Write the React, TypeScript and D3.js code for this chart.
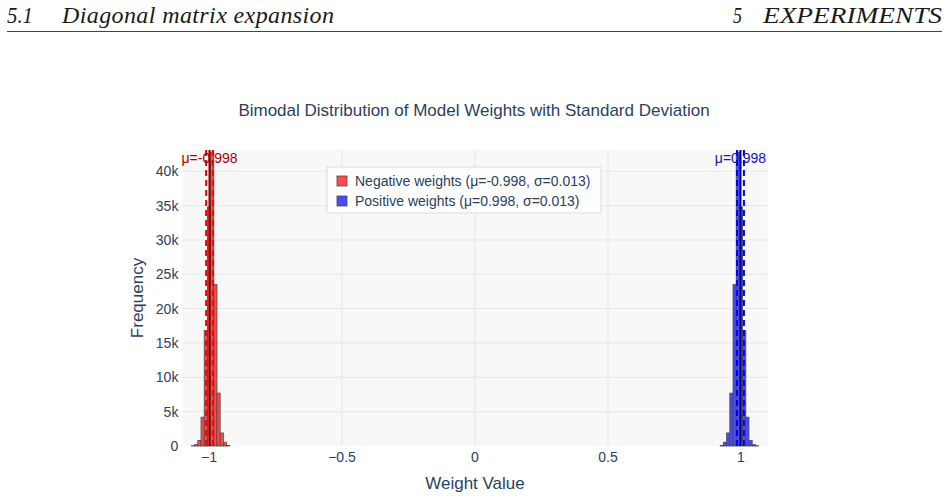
import React, { useEffect, useRef } from "react";
import * as d3 from "d3";

// histogram bins (left edge) and counts for each sign of the weights
const binWidth = 0.012;
const negativeBinStarts = [-1.066, -1.054, -1.042, -1.03, -1.018, -1.006, -0.994, -0.982, -0.97, -0.958, -0.946, -0.934];
const negativeCounts = [50, 200, 800, 4200, 16800, 34800, 42800, 23500, 7700, 1900, 550, 60];
const positiveBinStarts = [0.922, 0.934, 0.946, 0.958, 0.97, 0.982, 0.994, 1.006, 1.018, 1.03, 1.042, 1.054];
const positiveCounts = [60, 550, 1900, 7700, 23500, 42800, 34800, 16800, 4200, 800, 200, 50];

const seriesNames = ["Negative weights", "Positive weights"];
const means = [-0.998, 0.998];
const stdDevs = [0.013, 0.013];

const xTicks = [-1, -0.5, 0, 0.5, 1];
const yTicks = [0, 5000, 10000, 15000, 20000, 25000, 30000, 35000, 40000];

const W = 949;
const H = 499;
const font = "'Liberation Sans', Arial, sans-serif";
const ink = "#2a3f5f";

function App() {
  const ref = useRef<SVGSVGElement>(null);

  useEffect(() => {
    drawChart();
  });

  function drawChart() {
    const svg = d3.select(ref.current);
    svg.selectAll("*").remove();

    const plot = { left: 182.4, right: 767.6, top: 150, bottom: 446 };
    const x = d3.scaleLinear().domain([-1.1, 1.1]).range([plot.left, plot.right]);
    const y = d3.scaleLinear().domain([0, 43100]).range([plot.bottom, plot.top]);

    // page header
    const header = svg.append("g").style("font-family", "'Liberation Serif', 'DejaVu Serif', serif").style("font-style", "italic").style("font-size", "24px").attr("fill", "#1a1a1a");
    header.append("text").attr("x", 7).attr("y", 23).attr("textLength", 26).attr("lengthAdjust", "spacingAndGlyphs").text("5.1");
    header.append("text").attr("x", 62).attr("y", 23).attr("textLength", 272).attr("lengthAdjust", "spacing").text("Diagonal matrix expansion");
    header.append("text").attr("x", 733).attr("y", 23).attr("textLength", 9).attr("lengthAdjust", "spacingAndGlyphs").text("5");
    header.append("text").attr("x", 763).attr("y", 23).attr("textLength", 179).attr("lengthAdjust", "spacingAndGlyphs").text("EXPERIMENTS");
    svg.append("line").attr("x1", 7).attr("x2", 942).attr("y1", 31.5).attr("y2", 31.5).attr("stroke", "#444").attr("stroke-width", 1.2);

    // plot background and grid
    svg.append("rect")
      .attr("x", plot.left).attr("y", plot.top)
      .attr("width", plot.right - plot.left).attr("height", plot.bottom - plot.top)
      .attr("fill", "#f8f8f8");

    svg.append("g").selectAll("line").data(yTicks.filter((d) => d > 0)).enter().append("line")
      .attr("x1", plot.left).attr("x2", plot.right)
      .attr("y1", (d) => y(d)).attr("y2", (d) => y(d))
      .attr("stroke", "#e6e6e6").attr("stroke-width", 1);
    svg.append("g").selectAll("line").data(xTicks).enter().append("line")
      .attr("x1", (d) => x(d)).attr("x2", (d) => x(d))
      .attr("y1", plot.top).attr("y2", plot.bottom)
      .attr("stroke", "#e6e6e6").attr("stroke-width", 1);

    // histograms
    const series = [
      { starts: negativeBinStarts, counts: negativeCounts, fill: "rgb(255,0,0)" },
      { starts: positiveBinStarts, counts: positiveCounts, fill: "rgb(0,0,255)" },
    ];
    series.forEach((s) => {
      svg.append("g").attr("opacity", 0.7).selectAll("rect")
        .data(s.starts.map((start, i) => ({ start, count: s.counts[i] })))
        .enter().append("rect")
        .attr("x", (d) => x(d.start))
        .attr("width", (d) => x(d.start + binWidth) - x(d.start))
        .attr("y", (d) => y(d.count))
        .attr("height", (d) => y(0) - y(d.count))
        .attr("fill", s.fill)
        .attr("stroke", "#000")
        .attr("stroke-width", 0.8);
    });

    // mean and +/- one standard deviation markers
    const lineColors = [
      { solid: "darkred", dashed: "red", text: "#a80000" },
      { solid: "darkblue", dashed: "blue", text: "#1515b5" },
    ];
    means.forEach((m, i) => {
      const g = svg.append("g");
      [m - stdDevs[i], m + stdDevs[i]].forEach((v) => {
        g.append("line")
          .attr("x1", x(v)).attr("x2", x(v))
          .attr("y1", plot.top).attr("y2", plot.bottom)
          .attr("stroke", lineColors[i].dashed).attr("stroke-width", 2)
          .attr("stroke-dasharray", "6,4");
      });
      g.append("line")
        .attr("x1", x(m)).attr("x2", x(m))
        .attr("y1", plot.top).attr("y2", plot.bottom)
        .attr("stroke", lineColors[i].solid).attr("stroke-width", 2);
      g.append("text")
        .attr("x", x(m)).attr("y", 163)
        .attr("text-anchor", "middle")
        .style("font-family", font).style("font-size", "14px")
        .attr("fill", lineColors[i].text)
        .text(`μ=${m.toFixed(3)}`);
    });

    // axes
    const tickFormatY = d3.format("~s");
    svg.append("g").selectAll("text").data(yTicks).enter().append("text")
      .attr("x", plot.left - 4).attr("y", (d) => y(d) + 5)
      .attr("text-anchor", "end")
      .style("font-family", font).style("font-size", "14px").attr("fill", ink)
      .text((d) => tickFormatY(d));
    const tickFormatX = d3.format("");
    svg.append("g").selectAll("text").data(xTicks).enter().append("text")
      .attr("x", (d) => x(d)).attr("y", 462)
      .attr("text-anchor", "middle")
      .style("font-family", font).style("font-size", "14px").attr("fill", ink)
      .text((d) => tickFormatX(d));

    svg.append("text")
      .attr("x", x(0)).attr("y", 489).attr("text-anchor", "middle")
      .style("font-family", font).style("font-size", "17px").attr("fill", ink)
      .text("Weight Value");
    svg.append("text")
      .attr("transform", `translate(143, ${(plot.top + plot.bottom) / 2}) rotate(-90)`)
      .attr("text-anchor", "middle")
      .style("font-family", font).style("font-size", "17px").attr("fill", ink)
      .text("Frequency");

    svg.append("text")
      .attr("x", 474).attr("y", 116).attr("text-anchor", "middle")
      .style("font-family", font).style("font-size", "17px").attr("fill", ink)
      .text("Bimodal Distribution of Model Weights with Standard Deviation");

    // legend
    const legend = svg.append("g").attr("transform", "translate(327, 167)");
    legend.append("rect")
      .attr("width", 274).attr("height", 46)
      .attr("fill", "rgba(255,255,255,0.85)")
      .attr("stroke", "#dcdcdc").attr("stroke-width", 1);
    series.forEach((s, i) => {
      const row = legend.append("g").attr("transform", `translate(0, ${14 + i * 20})`);
      row.append("rect")
        .attr("x", 10).attr("y", -5).attr("width", 10).attr("height", 10)
        .attr("fill", s.fill).attr("opacity", 0.7)
        .attr("stroke", "#000").attr("stroke-width", 0.8);
      row.append("text")
        .attr("x", 28).attr("y", 5)
        .style("font-family", font).style("font-size", "14px").attr("fill", ink)
        .text(`${seriesNames[i]} (μ=${means[i].toFixed(3)}, σ=${stdDevs[i].toFixed(3)})`);
    });
  }

  return (
    <div style={{ position: "absolute", left: 0, top: 0 }}>
      <svg ref={ref} width={W} height={H} style={{ display: "block", background: "#fff" }} />
    </div>
  );
}

export default App;
